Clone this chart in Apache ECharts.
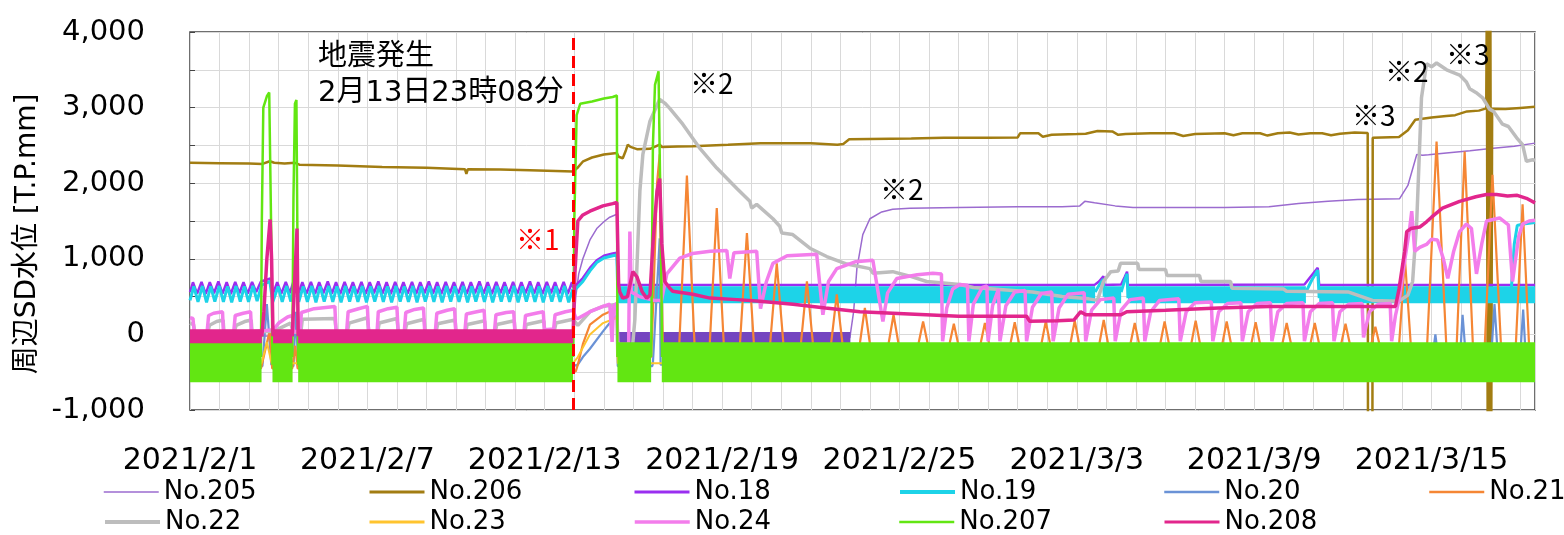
<!DOCTYPE html>
<html><head><meta charset="utf-8">
<script src="https://cdn.jsdelivr.net/npm/echarts@6.0.0/dist/echarts.min.js"></script>
<style>html,body{margin:0;padding:0;background:#fff}#c{width:1564px;height:535px}</style>
</head><body><div id="c"></div>
<script>
const FONT = '"DejaVu Sans","Noto Sans CJK JP",sans-serif';
const FONT_JP = '"Noto Sans CJK JP",sans-serif';
// x = days since 2021/2/1 00:00
const xTickLabels = ['2021/2/1','2021/2/7','2021/2/13','2021/2/19','2021/2/25','2021/3/3','2021/3/9','2021/3/15'];
const yTickLabels = ['-1,000','0','1,000','2,000','3,000','4,000'];
const seriesNames = ['No.205','No.206','No.18','No.19','No.20','No.21','No.22','No.23','No.24','No.207','No.208'];
const quakeDay = 12.964; // 2021/2/13 23:08

const no205 = [[0,-20],[12.96,-20],[13.05,500],[13.15,800],[13.29,1000],[13.53,1250],[13.76,1400],[14.0,1490],[14.2,1550],[14.44,1590],[14.47,-30],null,
 [22.32,-50],[22.45,300],[22.56,870],[22.76,1320],[23.0,1530],[23.4,1620],[23.77,1655],[24.35,1670],[26.0,1680],[28.0,1690],[29.5,1690],[30.1,1700],[30.27,1760],[30.6,1740],[31.3,1700],[31.9,1680],[33.0,1680],[35.0,1680],[36.5,1690],[37.5,1730],[38.5,1760],[39.5,1785],[40.92,1795],[41.2,1970],[41.5,2380],[41.7,2370],[41.9,2375],[42.5,2400],[43.3,2430],[44.0,2460],[44.8,2490],[45.5,2530]];
const no205Band = [[14.47,15.56,-40],[15.96,22.34,-40]];

const no206 = [[0,2270],[1.0,2265],[2.0,2260],[2.45,2255],[2.7,2290],[2.85,2270],[3.2,2260],[3.55,2270],[3.7,2245],[5.0,2235],[6.5,2215],[8.0,2205],[9.3,2185],[9.35,2125],[9.4,2185],[10.5,2180],[11.5,2170],[12.96,2155],[13.1,2200],[13.3,2290],[13.6,2340],[14.0,2380],[14.44,2400],[14.5,2350],[14.64,2330],[14.75,2440],[14.81,2510],[14.9,2480],[15.12,2450],[15.56,2455],[15.89,2510],[15.96,2480],[16.5,2485],[17.0,2490],[18.2,2510],[19.3,2530],[20.4,2530],[21.0,2530],[21.9,2510],[22.1,2520],[22.3,2580],[23.0,2585],[24.4,2590],[25.5,2600],[27.0,2600],[28.0,2605],[28.08,2660],[28.7,2660],[28.85,2615],[29.15,2640],[30.0,2650],[30.3,2655],[30.7,2690],[31.2,2685],[31.4,2640],[31.65,2650],[32.5,2660],[33.3,2660],[33.6,2625],[34.0,2650],[35.0,2660],[35.3,2635],[35.6,2660],[36.2,2660],[36.45,2630],[36.8,2660],[37.2,2670],[37.5,2645],[37.9,2660],[38.3,2660],[38.6,2635],[38.9,2655],[39.4,2670],[39.84,2665],[39.85,-1300],[40.0,-1300],[40.01,2600],[40.9,2610],[41.2,2700],[41.45,2840],[42.0,2870],[42.5,2890],[42.8,2900],[43.2,2950],[43.6,2960],[43.85,2990],[43.87,4400],[43.9,-1400],[43.93,4400],[43.96,-1400],[43.99,4400],[44.02,-1400],[44.05,2985],[44.5,2980],[45.0,2995],[45.5,3010]];

const no18 = [[0,560],[0.10,690],[0.24,540],[0.39,695],[0.53,535],[0.67,690],[0.81,545],[0.96,700],[1.10,540],[1.24,690],[1.38,535],[1.53,695],[1.67,545],[1.81,690],[1.95,540],[2.10,695],[2.24,560],[2.40,700],[2.72,740],[2.80,530],[2.95,690],[3.09,540],[3.24,695],[3.38,545],[3.50,700],[3.60,720],[3.66,530],[3.80,690],[3.94,540],[4.09,695],[4.23,535],[4.37,690],[4.51,545],[4.66,700],[4.80,540],[4.94,690],[5.08,535],[5.23,695],[5.37,545],[5.51,690],[5.65,540],[5.80,695],[5.94,535],[6.08,690],[6.22,545],[6.37,700],[6.51,540],[6.65,690],[6.79,535],[6.94,695],[7.08,545],[7.22,690],[7.36,540],[7.51,695],[7.65,535],[7.79,690],[7.93,545],[8.08,700],[8.22,540],[8.36,690],[8.50,535],[8.65,695],[8.79,545],[8.93,690],[9.07,540],[9.22,695],[9.36,535],[9.50,690],[9.64,545],[9.79,700],[9.93,540],[10.07,690],[10.21,535],[10.36,695],[10.50,545],[10.64,690],[10.78,540],[10.93,695],[11.07,535],[11.21,690],[11.35,545],[11.50,700],[11.64,540],[11.78,690],[11.92,535],[12.07,695],[12.21,545],[12.35,690],[12.49,540],[12.64,695],[12.78,535],[12.92,690],
 [12.96,620],[13.05,650],[13.29,745],[13.53,880],[13.76,980],[14.0,1040],[14.3,1070],[14.44,1080],[14.47,655],[30.6,655],[30.75,700],[30.9,770],[30.93,655],[31.5,660],[31.62,760],[31.7,830],[31.73,655],[37.7,660],[37.9,760],[38.15,880],[38.2,655],[45.5,655]];

const no19 = [[0,450],[0.13,635],[0.27,430],[0.42,640],[0.56,425],[0.70,635],[0.84,435],[0.99,640],[1.13,430],[1.27,635],[1.41,425],[1.56,640],[1.70,435],[1.84,635],[1.98,430],[2.13,640],[2.27,440],[2.42,650],[2.70,700],[2.80,430],[2.98,635],[3.12,430],[3.27,640],[3.41,435],[3.52,650],[3.62,680],[3.68,430],[3.83,635],[3.97,430],[4.12,640],[4.26,425],[4.40,635],[4.54,435],[4.69,640],[4.83,430],[4.97,635],[5.11,425],[5.26,640],[5.40,435],[5.54,635],[5.68,430],[5.83,640],[5.97,425],[6.11,635],[6.25,435],[6.40,640],[6.54,430],[6.68,635],[6.82,425],[6.97,640],[7.11,435],[7.25,635],[7.39,430],[7.54,640],[7.68,425],[7.82,635],[7.96,435],[8.11,640],[8.25,430],[8.39,635],[8.53,425],[8.68,640],[8.82,435],[8.96,635],[9.10,430],[9.25,640],[9.39,425],[9.53,635],[9.67,435],[9.82,640],[9.96,430],[10.10,635],[10.24,425],[10.39,640],[10.53,435],[10.67,635],[10.81,430],[10.96,640],[11.10,425],[11.24,635],[11.38,435],[11.53,640],[11.67,430],[11.81,635],[11.95,425],[12.10,640],[12.24,435],[12.38,635],[12.52,430],[12.67,640],[12.81,425],[12.95,600],
 [12.96,560],[13.05,600],[13.29,700],[13.53,840],[13.76,950],[14.0,1010],[14.3,1040],[14.44,1050],[14.47,560],null,
 [30.62,560],[30.8,680],[30.9,730],[30.93,500],null,
 [31.5,560],[31.62,720],[31.7,800],[31.73,480],null,
 [37.75,560],[37.95,720],[38.15,850],[38.2,480],null,
 [44.7,600],[44.8,1200],[44.9,1440],[45.1,1460],[45.5,1480]];
const no19Band = [[14.47,30.62,525],[30.93,31.5,525],[31.73,37.75,525],[38.2,45.5,525]];

const no20 = [[0,-420],[2.45,-420],[2.6,400],[2.75,-400],[3.5,-420],[3.58,300],[3.66,-420],[12.96,-420],[13.12,-400],[13.29,-300],[13.53,-190],[13.97,40],[14.3,200],[14.44,250],[14.47,-420],[15.64,-420],[15.66,-380],[15.89,1270],[15.92,-400],[42.0,-400],[42.13,0],[42.25,-400],[42.95,-400],[43.05,260],[43.18,-400],[44.0,-400],[44.13,400],[44.26,-400],[44.98,-400],[45.1,330],[45.2,-400],[45.5,-400]];

const no21 = [[0,-450],[2.4,-450],[2.55,-200],[2.7,50],[2.78,-450],[3.46,-450],[3.56,-150],[3.64,-450],[12.96,-480],[13.05,-490],[13.12,-400],[13.29,-130],[13.53,130],[13.97,260],[14.3,320],[14.44,340],[14.47,-300],[15.6,-300],[15.66,300],[15.8,2000],[15.89,2380],[15.93,1000],[16.0,-200],
 [16.55,-150],[16.81,2100],[17.07,-150],[17.58,-150],[17.82,1670],[18.06,-150],[18.6,-150],[18.84,1340],[19.08,-150],[19.62,-150],[19.85,940],[20.08,-150],[20.66,-150],[20.87,700],[21.08,-150],[21.68,-150],[21.88,530],[22.08,-150],[22.65,-150],[22.83,350],[23.01,-150],[23.62,-150],[23.8,260],[23.98,-150],[24.63,-150],[24.8,170],[24.97,-150],[25.68,-150],[25.84,140],[26.0,-150],[26.73,-150],[26.89,150],[27.05,-150],[27.74,-150],[27.9,160],[28.06,-150],[28.79,-150],[28.95,170],[29.11,-150],[29.77,-150],[29.93,180],[30.09,-150],[30.75,-150],[30.91,190],[31.07,-150],[31.8,-150],[31.96,150],[32.12,-150],[32.81,-150],[32.97,170],[33.13,-150],[33.86,-150],[34.02,180],[34.18,-150],[34.91,-150],[35.07,170],[35.23,-150],[35.89,-150],[36.05,160],[36.21,-150],[36.94,-150],[37.1,150],[37.26,-150],[37.89,-150],[38.05,150],[38.21,-150],[38.93,-150],[39.09,140],[39.25,-150],[39.95,-150],[40.1,100],[40.25,-150],[40.9,-150],[41.1,1000],[41.3,-150],[41.85,-150],[42.17,2550],[42.5,-150],[42.85,-150],[43.12,2420],[43.4,-150],[43.8,-150],[44.06,2110],[44.35,-150],[44.85,-150],[45.08,1720],[45.3,-150],[45.5,-150]];

const no22 = [[0,150],[0.12,130],[0.16,30],[0.6,30],[0.66,120],[0.9,170],[1.12,190],[1.15,30],[1.5,30],[1.56,120],[1.85,170],[2.07,190],[2.1,30],[2.82,40],[3.4,150],[3.5,30],[3.75,30],[3.8,200],[4.9,210],[4.95,30],[5.32,30],[5.38,150],[6.0,220],[6.05,30],[6.35,30],[6.4,150],[7.0,210],[7.05,30],[7.27,30],[7.33,140],[7.92,200],[7.96,30],[8.32,30],[8.38,140],[8.97,190],[9.0,30],[9.32,30],[9.38,130],[9.97,180],[10.0,30],[10.32,30],[10.38,130],[10.97,180],[11.0,30],[11.32,30],[11.38,130],[11.97,180],[12.0,40],[12.32,40],[12.38,150],[12.96,200],
 [13.12,120],[13.53,300],[13.97,370],[14.44,400],[14.47,-250],[14.95,-250],[15.05,200],[15.22,1900],[15.32,2380],[15.56,2820],[15.89,3110],[16.06,3060],[16.23,2990],[16.67,2780],[17.25,2460],[17.82,2200],[18.5,1930],[18.94,1760],[19.0,1670],[19.17,1720],[19.72,1530],[19.95,1430],[20.02,1340],[20.39,1320],[20.97,1140],[21.54,1030],[22.22,930],[23.0,870],[23.1,810],[23.77,830],[24.35,770],[24.92,700],[26.04,660],[26.5,620],[27.5,590],[28.5,560],[29.5,500],[30.4,470],[30.7,450],[30.9,700],[31.15,830],[31.4,840],[31.48,940],[32.06,940],[32.1,860],[33.0,860],[33.05,780],[34.15,780],[34.2,700],[35.2,700],[35.25,610],[37.0,600],[37.1,570],[39.2,560],[40.0,450],[40.9,440],[41.2,520],[41.36,700],[41.5,1500],[41.66,3130],[41.83,3580],[42.0,3540],[42.17,3590],[42.51,3500],[42.95,3430],[43.18,3340],[43.29,3250],[43.5,3200],[43.73,3130],[43.96,2980],[44.1,2950],[44.4,2780],[44.6,2750],[44.88,2600],[45.08,2510],[45.21,2290],[45.42,2310],[45.5,2300]];

const no23 = [[0,-380],[2.42,-380],[2.6,-100],[2.76,-380],[12.96,-380],[13.12,-300],[13.53,0],[13.97,150],[14.44,220],[14.47,-380],[45.5,-380]];

const no24 = [[0,220],[0.1,210],[0.14,40],[0.58,40],[0.63,250],[0.8,280],[1.1,300],[1.13,40],[1.48,40],[1.53,250],[1.8,280],[2.05,300],[2.08,40],[2.5,50],[2.82,60],[3.0,150],[3.3,230],[3.46,250],[3.5,40],[3.72,40],[3.77,290],[4.2,340],[4.9,370],[4.94,40],[5.3,40],[5.35,300],[5.7,340],[6.0,370],[6.04,40],[6.33,40],[6.37,300],[6.7,340],[7.0,360],[7.04,40],[7.25,40],[7.3,290],[7.6,330],[7.9,350],[7.94,40],[8.3,40],[8.35,280],[8.7,320],[8.95,340],[8.99,40],[9.3,40],[9.35,270],[9.7,300],[9.95,320],[9.99,40],[10.3,40],[10.35,260],[10.7,290],[10.95,300],[10.99,40],[11.3,40],[11.35,250],[11.7,280],[11.95,300],[11.99,60],[12.3,70],[12.35,260],[12.7,300],[12.96,320],
 [13.05,220],[13.12,210],[13.53,300],[13.97,370],[14.2,400],[14.25,380],[14.28,-100],[14.33,380],[14.44,410],[14.47,-130],[14.84,-130],[14.88,1360],[14.93,560],[15.2,500],[15.5,470],[15.7,450],[15.95,450],[16.13,800],[16.57,1010],[17.0,1070],[17.6,1100],[18.16,1110],[18.26,740],[18.4,1080],[19.17,1100],[19.3,340],[19.5,700],[19.72,940],[20.2,1040],[21.2,1060],[21.41,260],[21.6,700],[21.88,870],[22.5,960],[23.1,980],[23.44,170],[23.6,550],[23.91,740],[24.6,790],[25.13,810],[25.42,800],[25.46,-90],[25.6,350],[25.8,600],[26.04,660],[26.3,650],
 [26.35,-90],[26.5,400],[26.8,620],[26.96,640],[27.0,-90],[27.15,380],[27.35,600],[27.4,-90],[27.6,380],[27.9,560],[28.25,580],[28.3,-90],[28.5,360],[28.8,540],[29.15,560],[29.2,-90],[29.4,350],[29.7,530],[30.25,550],[30.3,-90],[30.5,320],[30.8,460],[31.25,480],[31.3,-90],[31.5,320],[31.8,460],[32.25,480],[32.3,-90],[32.5,300],[32.8,450],[33.45,470],[33.5,-90],[33.7,300],[34.0,420],[34.55,430],[34.6,-90],[34.8,300],[35.1,410],[35.55,420],[35.6,-90],[35.8,300],[36.1,410],[36.55,420],[36.6,-90],[36.8,300],[37.1,410],[37.65,420],[37.7,-90],[37.9,300],[38.2,410],[38.65,420],[38.7,-90],[38.9,300],[39.2,400],[39.65,410],[39.7,-40],[39.9,300],[40.2,400],[40.6,410],
 [40.65,-90],[40.78,250],[40.92,500],[41.1,1000],[41.26,1400],[41.33,1630],[41.43,1100],[41.6,1150],[41.83,1190],[42.0,1260],[42.2,1250],[42.4,1000],[42.55,740],[42.75,1100],[42.95,1360],[43.18,1460],[43.35,1400],[43.52,800],[43.7,1200],[43.86,1500],[44.3,1540],[44.6,1450],[44.74,700],[44.95,1300],[45.08,1460],[45.3,1500],[45.5,1510]];

const no207 = [[2.40,-300],[2.43,1500],[2.48,3000],[2.6,3150],[2.68,3200],[2.72,3220],[2.76,1000],[2.79,-400],null,
 [3.46,-300],[3.5,1800],[3.55,3050],[3.6,3100],[3.63,1500],[3.66,-400],null,
 [12.96,-300],[13.0,1500],[13.08,2900],[13.2,3050],[13.6,3080],[14.0,3120],[14.3,3140],[14.44,3160],[14.46,-300],null,
 [15.6,-300],[15.66,2500],[15.73,3300],[15.85,3480],[15.9,3480],[15.94,1000],[15.97,-300]];
const no207Band = [[0,2.42,-370],[2.79,3.47,-370],[3.66,12.96,-370],[14.46,15.6,-370],[15.96,45.5,-370]];

const no208 = [[2.43,-25],[2.5,300],[2.6,1000],[2.71,1520],[2.76,1000],[2.81,-25],null,
 [3.46,-25],[3.53,600],[3.62,1400],[3.66,-25],null,
 [12.96,-25],[13.02,800],[13.12,1500],[13.29,1580],[13.53,1630],[13.97,1700],[14.3,1730],[14.44,1745],[14.5,660],[14.54,560],[14.64,480],[14.8,500],[14.98,830],[15.12,760],[15.3,560],[15.45,480],[15.56,520],[15.66,1200],[15.8,1900],[15.89,2060],[15.96,1200],[16.06,700],[16.23,610],[16.33,570],[17.01,530],[17.59,480],[18.5,460],[19.28,440],[20.4,400],[21.5,350],[22.66,300],[23.77,280],[24.9,260],[26.0,240],[27.4,240],[28.3,240],[28.4,175],[29.35,180],[29.9,190],[30.13,300],[30.3,260],[31.5,260],[31.69,300],[33.0,320],[34.8,350],[36.5,370],[38.0,370],[39.5,370],[40.78,370],[40.9,600],[41.09,1100],[41.16,1360],[41.3,1400],[41.6,1420],[41.83,1490],[42.0,1550],[42.37,1670],[42.95,1760],[43.5,1820],[43.86,1850],[44.2,1850],[44.57,1830],[44.9,1840],[45.21,1800],[45.5,1740]];
const no208Band = [[0,2.43,-25],[2.81,3.46,-25],[3.66,12.96,-25]];

const COLORS = {'No.205':'#9B6BCF','No.206':'#A27D12','No.18':'#9A2EF0','No.19':'#1DD3E8','No.20':'#6A92D6','No.21':'#F58634','No.22':'#BDBDBD','No.23':'#FFC42E','No.24':'#F37DEB','No.207':'#62E612','No.208':'#E2268C'};
const LEGEND_W = {'No.205':1.5,'No.206':3,'No.18':3,'No.19':4,'No.20':2.5,'No.21':2.5,'No.22':4,'No.23':3,'No.24':3.5,'No.207':2.5,'No.208':3};

const seg = a => a.map(p => p ? p : ['-','-']);
const bands = list => { const out=[]; list.forEach(([a,b,v],i)=>{ if(i) out.push(['-','-']); out.push([a,v],[b,v]); }); return out; };
function mk(name, data, width, extra){
  const color = (extra && extra.color) || COLORS[name];
  const s = Object.assign({name, type:'line', data, symbol:'none', showSymbol:false, animation:false, silent:true,
    emphasis:{disabled:true}, clip:true}, extra||{});
  s.lineStyle = {color, width, cap:'butt'};
  s.itemStyle = {color};
  delete s.color;
  return s;
}

const series = [
  mk('No.205', seg(no205), 1.5),
  mk('No.205', bands(no205Band), 11, {color:'#7445C0'}),
  mk('No.206', no206, 2.5, {z:3}),
  mk('No.18', no18, 2.5),
  mk('No.19', bands(no19Band), 17),
  mk('No.19', seg(no19), 3),
  mk('No.20', no20, 2.2),
  mk('No.21', no21, 2.2),
  mk('No.22', no22, 3.5),
  mk('No.23', no23, 2),
  mk('No.24', no24, 3.5),
  mk('No.207', seg(no207), 2.5),
  mk('No.207', bands(no207Band), 40),
  mk('No.208', bands(no208Band), 14),
  mk('No.208', seg(no208), 3.5),
  {type:'line', name:'quake', data:[], z:4, silent:true, animation:false,
   markLine:{silent:true, symbol:'none', animation:false, label:{show:false},
     lineStyle:{color:'#FF0000', width:3, type:[12,6]}, data:[{xAxis:quakeDay}]}}
];

// one legend component per entry: 6 columns, 2 rows
const legends = seriesNames.map((n, i) => ({
  left: 103 + (i % 6) * 265, top: 479 + Math.floor(i / 6) * 30,
  padding:0, itemWidth:55, itemHeight:14, itemGap:0, selectedMode:false,
  itemStyle:{opacity:0},
  textStyle:{fontSize:26, fontFamily:FONT, color:'#000'},
  data:[{name:n, lineStyle:{width:LEGEND_W[n], color:COLORS[n]}}]
}));

const txt = (x, y, text, opts) => ({type:'text', x, y, z:100,
  style:Object.assign({text, fill:'#000', font:'29px '+FONT, verticalAlign:'middle'}, opts||{})});

const option = {
  backgroundColor:'#fff',
  animation:false,
  grid:{left:190, right:29, top:32, bottom:125, show:true, borderColor:'#404040', borderWidth:1.5, containLabel:false},
  xAxis:{type:'value', min:0, max:45.5, interval:1,
    axisLine:{show:false}, axisTick:{show:false},
    splitLine:{show:true, lineStyle:{color:'#D9D9D9', width:1}},
    axisLabel:{margin:36, fontSize:30, fontFamily:FONT, color:'#000', hideOverlap:false,
      formatter: v => (Math.abs(v % 6) < 1e-9 && xTickLabels[v/6]) ? xTickLabels[v/6] : ''}},
  yAxis:{type:'value', min:-1000, max:4000, interval:500,
    axisLine:{show:false}, axisTick:{show:true, inside:true, length:5, lineStyle:{color:'#444'}},
    splitLine:{lineStyle:{color:'#D9D9D9', width:1}},
    axisLabel:{margin:45, fontSize:29, fontFamily:FONT, color:'#000',
      formatter: v => (v % 1000 === 0) ? yTickLabels[(v+1000)/1000] : ''}},
  legend: legends,
  graphic:[
    txt(318, 57, '地震発生'),
    txt(318, 93, '2月13日23時08分'),
    txt(516, 239, '※1', {fill:'#FF0000', font:'28px '+FONT_JP}),
    txt(690, 83, '※2', {font:'28px '+FONT_JP}),
    txt(880, 189, '※2', {font:'28px '+FONT_JP}),
    txt(1352, 115, '※3', {font:'28px '+FONT_JP}),
    txt(1385, 71, '※2', {font:'28px '+FONT_JP}),
    txt(1446, 54, '※3', {font:'28px '+FONT_JP}),
    Object.assign(txt(28, 234, '周辺SD水位 [T.P.mm]', {align:'center', font:'28px '+FONT}), {rotation:Math.PI/2})
  ],
  series
};
const chart = echarts.init(document.getElementById('c'), null, {renderer:'canvas'});
chart.setOption(option);
</script></body></html>
